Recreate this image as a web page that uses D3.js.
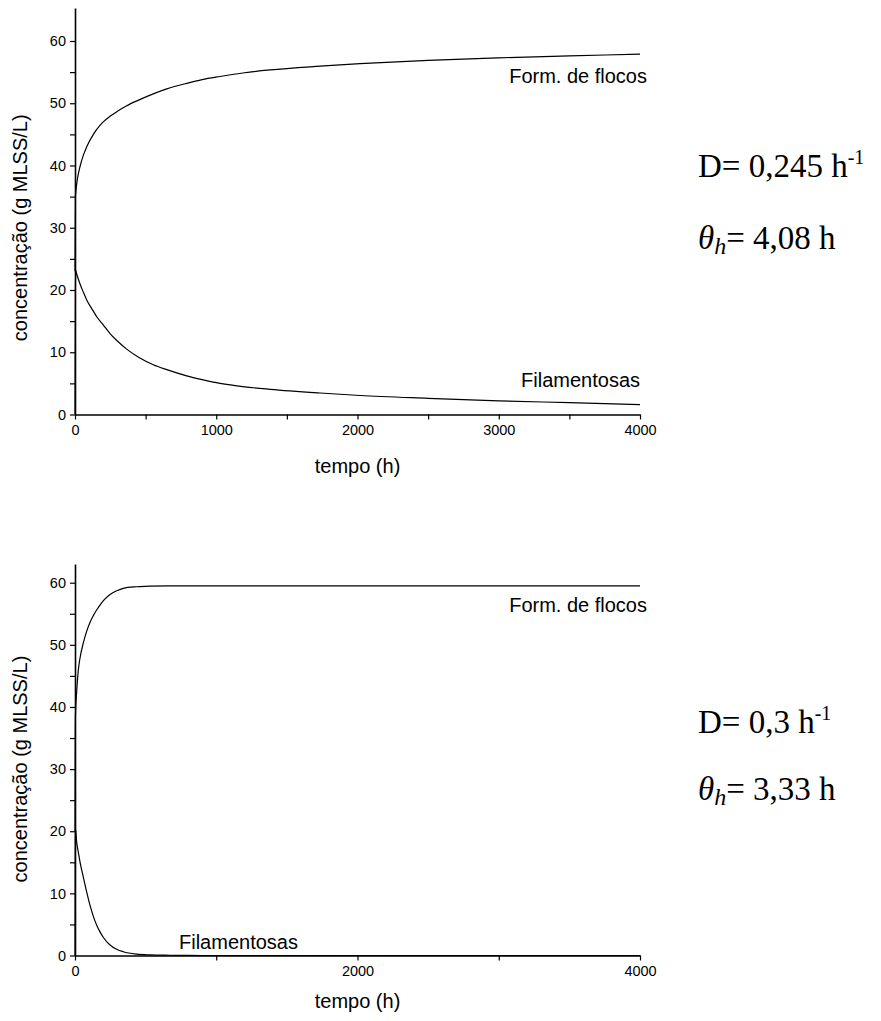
<!DOCTYPE html>
<html>
<head>
<meta charset="utf-8">
<script src="https://cdn.jsdelivr.net/npm/d3@7"></script>
<style>
  html, body { margin: 0; padding: 0; background: #fff; }
  svg { display: block; }
</style>
</head>
<body>
<svg id="chart" width="881" height="1021"></svg>
<script>
// Biomass concentration (g MLSS/L) over time (h), two dilution rates.

// Panel A: D = 0.245 1/h
const timeA     = [0, 3, 5, 7, 20, 35, 60, 83, 130, 154, 200, 248, 300, 366, 450, 554, 650, 791, 900, 1027, 1200, 1381, 1735, 2018, 2500, 3000, 3500, 4000];
const flocosA   = [23, 35, 35.6, 36.1, 38.2, 39.8, 41.7, 43.0, 45.0, 45.8, 47.0, 47.9, 48.7, 49.6, 50.5, 51.5, 52.3, 53.2, 53.8, 54.3, 54.9, 55.35, 55.95, 56.35, 56.9, 57.3, 57.6, 57.9];
const filamentA = [0, 20, 23.2, 23.0, 22.0, 21.0, 19.6, 18.4, 16.6, 15.7, 14.4, 13.0, 11.8, 10.5, 9.2, 8.0, 7.2, 6.2, 5.6, 5.0, 4.45, 4.05, 3.45, 3.05, 2.6, 2.2, 1.9, 1.6];

// Panel B: D = 0.3 1/h
const timeB     = [0, 2, 3, 12, 23, 35, 59, 83, 106, 130, 153, 177, 201, 248, 295, 342, 437, 530, 672, 800, 1000, 2000, 3000, 4000];
const flocosB   = [20, 36, 38.5, 42.5, 45.8, 47.8, 50.3, 52.2, 53.6, 54.7, 55.6, 56.4, 57.1, 58.1, 58.7, 59.1, 59.35, 59.45, 59.5, 59.5, 59.5, 59.5, 59.5, 59.5];
const filamentB = [0, 19, 20.5, 18.2, 16.7, 15.1, 12.6, 10.2, 8.1, 6.3, 4.9, 3.8, 2.9, 1.7, 1.0, 0.6, 0.22, 0.1, 0.04, 0.01, 0, 0, 0, 0];

// Axis ticks
const yMajorTicks  = [0, 10, 20, 30, 40, 50, 60];
const yMinorTicks  = [5, 15, 25, 35, 45, 55];
const xMajorTicksA = [0, 1000, 2000, 3000, 4000];
const xMinorTicksA = [500, 1500, 2500, 3500];
const xMajorTicksB = [0, 2000, 4000];
const xMinorTicksB = [1000, 3000];

// Curve and panel labels
const seriesLabels = ["Form. de flocos", "Filamentosas"];
const xTitle = "tempo (h)";
const yTitle = "concentração (g MLSS/L)";
const dilutionA = "0,245";
const thetaA = "4,08";
const dilutionB = "0,3";
const thetaB = "3,33";

const svg = d3.select("#chart");
const sansFont = "'Liberation Sans', Arial, Helvetica, sans-serif";
const serifFont = "'Liberation Serif', 'Times New Roman', serif";

function drawPanel(cfg) {
  const g = svg.append("g");
  const x = d3.scaleLinear().domain([0, 4000]).range([cfg.left, cfg.right]);
  // 0..60 spans bottom..y60; the axis line runs on up to yMax
  const y = d3.scaleLinear().domain([0, 60]).range([cfg.bottom, cfg.y60]);

  // x axis: labelled major ticks plus unlabelled minor ticks
  g.append("g").attr("transform", `translate(0,${cfg.bottom})`)
    .call(d3.axisBottom(x).tickValues(cfg.xMajor).tickSize(5).tickSizeOuter(0).tickPadding(5).tickFormat(d3.format("d")));
  g.append("g").attr("transform", `translate(0,${cfg.bottom})`)
    .call(d3.axisBottom(x).tickValues(cfg.xMinor).tickSize(5).tickFormat(""))
    .call(a => a.select(".domain").remove());

  const yAxisScale = y.copy().domain([0, cfg.yMax]).range([cfg.bottom, y(cfg.yMax)]);
  g.append("g").attr("transform", `translate(${cfg.left},0)`)
    .call(d3.axisLeft(yAxisScale).tickValues(yMajorTicks).tickSize(5).tickSizeOuter(0).tickPadding(4));
  g.append("g").attr("transform", `translate(${cfg.left},0)`)
    .call(d3.axisLeft(yAxisScale).tickValues(yMinorTicks).tickSize(5).tickFormat(""))
    .call(a => a.select(".domain").remove());

  g.selectAll(".domain").attr("stroke", "#000").attr("stroke-width", 1.6);
  g.selectAll(".tick line").attr("stroke", "#000").attr("stroke-width", 1.2);
  g.selectAll(".tick text").attr("fill", "#000")
    .style("font-family", sansFont).style("font-size", "14.5px");

  // axis titles
  g.append("text")
    .attr("x", (cfg.left + cfg.right) / 2).attr("y", cfg.bottom + cfg.xTitleOffset)
    .attr("text-anchor", "middle")
    .style("font-family", sansFont).style("font-size", "20px")
    .text(xTitle);
  g.append("text")
    .attr("transform", `translate(${cfg.yTitleX},${y(30)}) rotate(-90)`)
    .attr("text-anchor", "middle")
    .style("font-family", sansFont).style("font-size", "20px")
    .text(yTitle);

  // curves
  const line = d3.line().x(d => x(d[0])).y(d => y(d[1])).curve(d3.curveMonotoneX);
  [cfg.flocos, cfg.filament].forEach(vals => {
    g.append("path")
      .datum(cfg.time.map((t, i) => [t, vals[i]]))
      .attr("fill", "none").attr("stroke", "#000").attr("stroke-width", 1.2)
      .attr("stroke-linejoin", "round")
      .attr("d", line);
  });

  // curve labels
  cfg.labels.forEach(l => {
    g.append("text")
      .attr("x", l.x).attr("y", l.y).attr("text-anchor", l.anchor)
      .style("font-family", sansFont).style("font-size", "20px")
      .text(l.text);
  });

  // operating condition notes
  const note = g.append("g").style("font-family", serifFont).style("font-size", "33px");
  const d = note.append("text").attr("x", cfg.noteX).attr("y", cfg.noteY1);
  d.append("tspan").text("D= " + cfg.dilution + " h");
  d.append("tspan").attr("dy", -13).style("font-size", "20px").text("-1");
  const th = note.append("text").attr("x", cfg.noteX).attr("y", cfg.noteY2);
  th.append("tspan").style("font-style", "italic").text("θ");
  th.append("tspan").attr("dy", 5).style("font-style", "italic").style("font-size", "24px").text("h");
  th.append("tspan").attr("dy", -5).text("= " + cfg.theta + " h");
}

drawPanel({
  left: 75, right: 640, bottom: 414.5, y60: 41, yMax: 65.3,
  xMajor: xMajorTicksA, xMinor: xMinorTicksA,
  time: timeA, flocos: flocosA, filament: filamentA,
  xTitleOffset: 58, yTitleX: 27,
  labels: [
    { text: seriesLabels[0], x: 647, y: 83, anchor: "end" },
    { text: seriesLabels[1], x: 640, y: 387, anchor: "end" }
  ],
  dilution: dilutionA, theta: thetaA, noteX: 698, noteY1: 177, noteY2: 249
});

drawPanel({
  left: 75, right: 640, bottom: 955.5, y60: 582.7, yMax: 63,
  xMajor: xMajorTicksB, xMinor: xMinorTicksB,
  time: timeB, flocos: flocosB, filament: filamentB,
  xTitleOffset: 52, yTitleX: 27,
  labels: [
    { text: seriesLabels[0], x: 647, y: 612, anchor: "end" },
    { text: seriesLabels[1], x: 179, y: 949, anchor: "start" }
  ],
  dilution: dilutionB, theta: thetaB, noteX: 698, noteY1: 733, noteY2: 800
});
</script>
</body>
</html>
